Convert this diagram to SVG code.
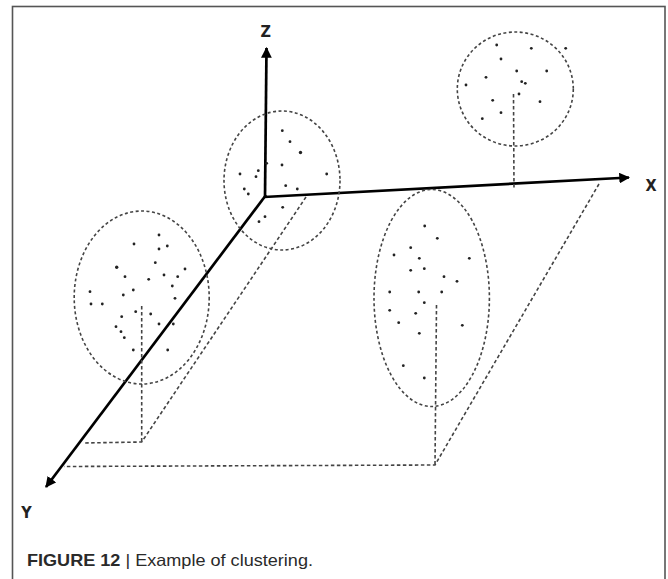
<svg xmlns="http://www.w3.org/2000/svg" width="668" height="579" viewBox="0 0 668 579">
<style>
.frame{fill:none;stroke:#555;stroke-width:1.6}
.axis{stroke:#000;stroke-width:2.7;fill:none}
.dash{stroke:#444;stroke-width:1.6;stroke-dasharray:3.5 2.5;fill:none}
.cl{stroke:#444;stroke-width:1.6;stroke-dasharray:3 2.5;fill:none}
.pt{fill:#222}
.lab{font-family:"DejaVu Sans Condensed","DejaVu Sans",sans-serif;font-size:16px;font-weight:600;fill:#222}
.cap{font-family:"Liberation Sans",Arial,sans-serif;font-size:16.5px;fill:#2a2a2a}
</style>
<defs>
<marker id="ah" viewBox="0 0 10 10" refX="9" refY="5" markerWidth="4" markerHeight="4" orient="auto" markerUnits="strokeWidth">
<path d="M0,0 L10,5 L0,10 z" fill="#000"/>
</marker>
</defs>
<rect class="frame" x="12.5" y="6.5" width="652.5" height="620"/>
<g id="connectors">
<line class="axis" x1="265" y1="197" x2="266.5" y2="48" marker-end="url(#ah)"/>
<line class="axis" x1="264" y1="197" x2="629" y2="177.5" stroke-width="3.2" marker-end="url(#ah)"/>
<line class="axis" x1="266" y1="195" x2="46" y2="487" marker-end="url(#ah)"/>
<polyline class="dash" points="306,197 141.7,442 83,443"/>
<line class="dash" x1="141.7" y1="306" x2="141.7" y2="442"/>
<polyline class="dash" points="599,184 435,465 64,466.5"/>
<line class="dash" x1="436.5" y1="305" x2="435" y2="465"/>
<line class="dash" x1="513.5" y1="94" x2="514" y2="190"/>
</g>
<g id="cluster1">
<ellipse class="cl" cx="282" cy="180.5" rx="58" ry="69.5"/>
<g class="pt">
<circle cx="282.3" cy="130.7" r="1.4"/><circle cx="290" cy="141.7" r="1.4"/><circle cx="300.5" cy="152.5" r="1.7"/>
<circle cx="266.7" cy="163.3" r="1.4"/><circle cx="282" cy="165" r="1.4"/><circle cx="258.3" cy="170.7" r="1.4"/>
<circle cx="240" cy="174" r="1.4"/><circle cx="256" cy="176.7" r="1.4"/><circle cx="326.7" cy="174" r="1.4"/>
<circle cx="244.3" cy="189" r="1.4"/><circle cx="248.3" cy="194" r="1.4"/><circle cx="285.7" cy="185.7" r="1.4"/>
<circle cx="297.3" cy="189" r="1.4"/><circle cx="282.7" cy="207.3" r="1.4"/><circle cx="265" cy="216.7" r="1.4"/>
<circle cx="259" cy="221.7" r="1.4"/>
</g>
</g>
<g id="cluster2">
<ellipse class="cl" cx="141.7" cy="297.5" rx="67.5" ry="86.5"/>
<g class="pt">
<circle cx="159" cy="235" r="1.4"/><circle cx="134" cy="244" r="1.4"/><circle cx="159" cy="249" r="1.4"/>
<circle cx="167.3" cy="246" r="1.4"/><circle cx="116.7" cy="267.3" r="1.7"/><circle cx="155.3" cy="262.7" r="1.4"/>
<circle cx="185" cy="269" r="1.4"/><circle cx="125" cy="276.7" r="1.4"/><circle cx="148.7" cy="279.3" r="1.4"/>
<circle cx="164" cy="275" r="1.4"/><circle cx="177.7" cy="276.7" r="1.4"/><circle cx="133.3" cy="290" r="1.4"/>
<circle cx="123.3" cy="295" r="1.4"/><circle cx="172.3" cy="286" r="1.4"/><circle cx="175" cy="298.3" r="1.4"/>
<circle cx="90" cy="291.7" r="1.4"/><circle cx="91" cy="304" r="1.4"/><circle cx="102.3" cy="304" r="1.4"/>
<circle cx="135.7" cy="311.7" r="1.4"/><circle cx="150.7" cy="314" r="1.4"/><circle cx="121.7" cy="316.7" r="1.4"/>
<circle cx="116" cy="326.7" r="1.4"/><circle cx="121" cy="331.7" r="1.4"/><circle cx="124.3" cy="337.7" r="1.4"/>
<circle cx="159" cy="324" r="1.4"/><circle cx="173.3" cy="324" r="1.4"/><circle cx="133.3" cy="350" r="1.4"/>
<circle cx="167.7" cy="350" r="1.4"/>
</g>
</g>
<g id="cluster3">
<ellipse class="cl" cx="431.7" cy="298" rx="57.7" ry="108.5"/>
<g class="pt">
<circle cx="424.7" cy="226" r="1.4"/><circle cx="437.3" cy="238.3" r="1.4"/><circle cx="410.7" cy="247.7" r="1.4"/>
<circle cx="394" cy="255" r="1.4"/><circle cx="419.3" cy="258.3" r="1.4"/><circle cx="469.3" cy="258.3" r="1.4"/>
<circle cx="410.7" cy="270.3" r="1.4"/><circle cx="424.3" cy="268.7" r="1.4"/><circle cx="444" cy="276.7" r="1.4"/>
<circle cx="457" cy="281.3" r="1.4"/><circle cx="389.7" cy="292" r="1.4"/><circle cx="418.7" cy="292" r="1.4"/>
<circle cx="441.7" cy="292" r="1.4"/><circle cx="424.3" cy="302.7" r="1.4"/><circle cx="389.7" cy="310.3" r="1.4"/>
<circle cx="415.7" cy="313.3" r="1.4"/><circle cx="398.7" cy="322.7" r="1.4"/><circle cx="462.3" cy="325.3" r="1.4"/>
<circle cx="419.3" cy="333.3" r="1.4"/><circle cx="403.3" cy="365.7" r="1.4"/><circle cx="424.3" cy="378" r="1.4"/>
</g>
</g>
<g id="cluster4">
<ellipse class="cl" cx="515.3" cy="89" rx="58" ry="57"/>
<g class="pt">
<circle cx="496.7" cy="45" r="1.4"/><circle cx="531.3" cy="48.3" r="1.4"/><circle cx="565.7" cy="48.3" r="1.4"/>
<circle cx="501" cy="59" r="1.4"/><circle cx="516.7" cy="71" r="1.4"/><circle cx="546.7" cy="71" r="1.4"/>
<circle cx="486" cy="77.3" r="1.4"/><circle cx="521.7" cy="81.7" r="1.4"/><circle cx="525.3" cy="83.3" r="1.4"/>
<circle cx="466" cy="85" r="1.4"/><circle cx="519" cy="94" r="1.4"/><circle cx="492.7" cy="100.3" r="1.4"/>
<circle cx="540" cy="101.7" r="1.4"/><circle cx="501" cy="112.7" r="1.4"/><circle cx="482.3" cy="118.7" r="1.4"/>
</g>
</g>
<g id="labels">
<text class="lab" x="265.7" y="37" text-anchor="middle">Z</text>
<text class="lab" x="651" y="191" text-anchor="middle">X</text>
<text class="lab" x="26.5" y="518" text-anchor="middle">Y</text>
</g>
<g id="caption">
<text class="cap" x="27" y="566" textLength="286" lengthAdjust="spacingAndGlyphs"><tspan font-weight="bold">FIGURE 12</tspan> | Example of clustering.</text>
</g>
</svg>
